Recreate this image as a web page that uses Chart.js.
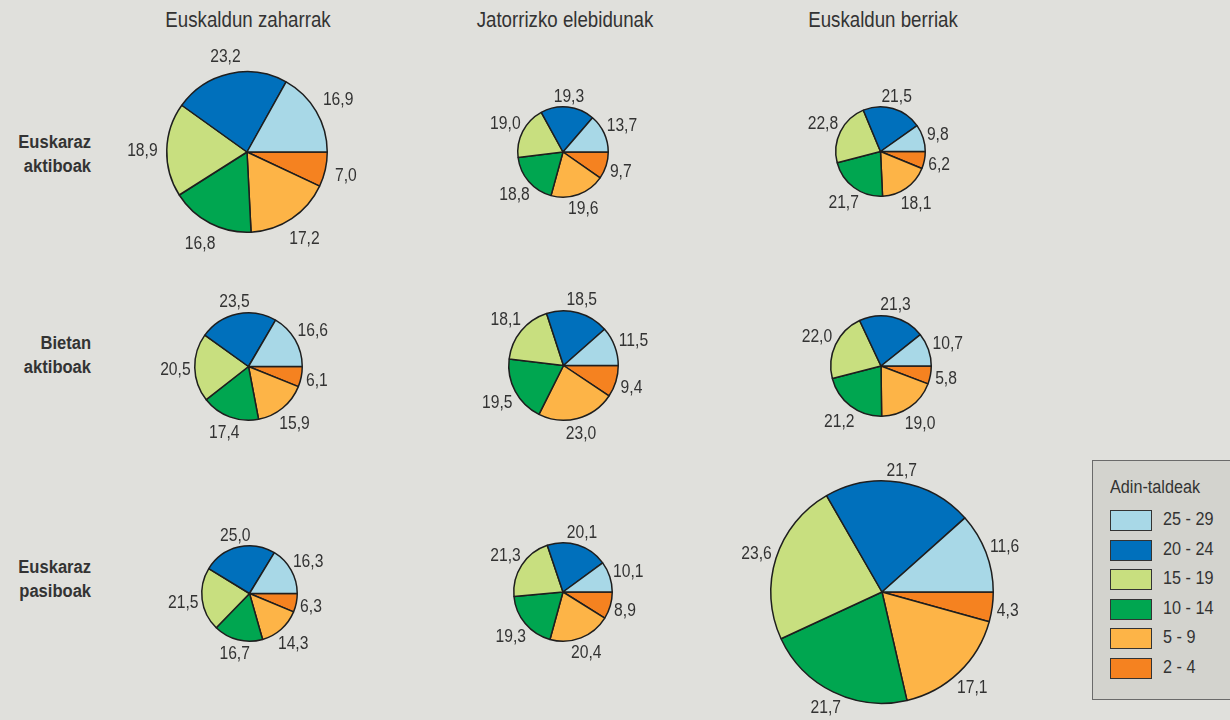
<!DOCTYPE html>
<html>
<head>
<meta charset="utf-8">
<script src="https://cdn.jsdelivr.net/npm/chart.js@4.4.1/dist/chart.umd.min.js"></script>
<style>
  html, body { margin:0; padding:0; background:#e0e0dc; }
  body { width:1230px; height:720px; position:relative; overflow:hidden;
         font-family:"Liberation Sans Narrow","Arial Narrow","Liberation Sans",sans-serif; color:#333; }
  canvas { position:absolute; }
  .coltitle { position:absolute; font-size:22px; line-height:26px; white-space:nowrap;
              transform:translateX(-50%) scaleX(0.85); transform-origin:50% 50%; }
  .rowtitle { position:absolute; font-weight:bold; font-size:18px; line-height:24px; text-align:right; right:1139px;
              white-space:nowrap; transform:scaleX(0.92); transform-origin:100% 50%; }
  #legend { position:absolute; left:1092px; top:460px; width:150px; height:240px; background:#d3d3ce;
            border:1.5px solid #6a6a6a; box-sizing:border-box; }
  #legend .lt { position:absolute; left:17px; top:16px; font-size:18px; transform:scaleX(0.9); transform-origin:0 50%; }
  #legend .item { position:absolute; left:17px; height:22px; }
  #legend .sw { position:absolute; left:0; top:0; width:42px; height:21px; border:1.5px solid #333; box-sizing:border-box; }
  #legend .lab { position:absolute; left:53px; top:-1px; font-size:18px; white-space:nowrap; transform:scaleX(0.9); transform-origin:0 50%; }
</style>
</head>
<body>
<script>
// ---- data ----
const ageGroups = ['25 - 29', '20 - 24', '15 - 19', '10 - 14', '5 - 9', '2 - 4'];
const groupColors = ['#a8d8e7', '#0070bc', '#c8df7f', '#00a650', '#fdb447', '#f58220'];
const columnTitles = ['Euskaldun zaharrak', 'Jatorrizko elebidunak', 'Euskaldun berriak'];
const rowTitles = [['Euskaraz', 'aktiboak'], ['Bietan', 'aktiboak'], ['Euskaraz', 'pasiboak']];

// values per age group, order as ageGroups (25-29 ... 2-4)
const aktiboakZaharrak   = [16.9, 23.2, 18.9, 16.8, 17.2, 7.0];
const aktiboakJatorrizko = [13.7, 19.3, 19.0, 18.8, 19.6, 9.7];
const aktiboakBerriak    = [9.8, 21.5, 22.8, 21.7, 18.1, 6.2];
const bietanZaharrak     = [16.6, 23.5, 20.5, 17.4, 15.9, 6.1];
const bietanJatorrizko   = [11.5, 18.5, 18.1, 19.5, 23.0, 9.4];
const bietanBerriak      = [10.7, 21.3, 22.0, 21.2, 19.0, 5.8];
const pasiboakZaharrak   = [16.3, 25.0, 21.5, 16.7, 14.3, 6.3];
const pasiboakJatorrizko = [10.1, 20.1, 21.3, 19.3, 20.4, 8.9];
const pasiboakBerriak    = [11.6, 21.7, 23.6, 21.7, 17.1, 4.3];

const grid = [
  [aktiboakZaharrak, aktiboakJatorrizko, aktiboakBerriak],
  [bietanZaharrak, bietanJatorrizko, bietanBerriak],
  [pasiboakZaharrak, pasiboakJatorrizko, pasiboakBerriak]
];

// ---- layout (positions / sizes) ----
const colX = [[247, 563, 880.5], [248.5, 563.5, 881], [249, 563, 882]];
const rowY = [[152, 151.5, 151.5], [366, 365.5, 365.5], [593, 592, 592]];
const radii = [[80, 45, 44.5], [53.5, 54.5, 50], [47.5, 49, 111]];
const labelGap = [[9, 3, 3], [4, 4, 4], [3, 3, 4]];
const colTitleX = [248, 565, 883];
const rowTitleTop = [130, 331, 555];
const PAD = 62;
const FONT = '"Liberation Sans Narrow","Arial Narrow","Liberation Sans",sans-serif';
const NARROW = 0.87;

// titles
columnTitles.forEach((t, i) => {
  const d = document.createElement('div');
  d.className = 'coltitle'; d.textContent = t;
  d.style.left = colTitleX[i] + 'px'; d.style.top = '7px';
  document.body.appendChild(d);
});
rowTitles.forEach((lines, i) => {
  const d = document.createElement('div');
  d.className = 'rowtitle'; d.innerHTML = lines.join('<br>');
  d.style.top = rowTitleTop[i] + 'px';
  document.body.appendChild(d);
});

// legend
const lg = document.createElement('div'); lg.id = 'legend';
lg.innerHTML = '<div class="lt">Adin-taldeak</div>';
ageGroups.forEach((g, i) => {
  const it = document.createElement('div'); it.className = 'item';
  it.style.top = (49 + i * 29.6) + 'px';
  it.innerHTML = '<div class="sw" style="background:' + groupColors[i] + '"></div><div class="lab">' + g + '</div>';
  lg.appendChild(it);
});
document.body.appendChild(lg);

// outside value labels
const outsideLabels = {
  id: 'outsideLabels',
  afterDatasetsDraw(chart, args, opts) {
    const ctx = chart.ctx;
    const meta = chart.getDatasetMeta(0);
    const vals = chart.data.datasets[0].data;
    ctx.save();
    ctx.font = '18px ' + FONT;
    ctx.fillStyle = '#333';
    ctx.textAlign = 'center';
    ctx.textBaseline = 'alphabetic';
    const capH = 13, gap = opts.gap;
    meta.data.forEach((arc, i) => {
      const p = arc.getProps(['x', 'y', 'startAngle', 'endAngle', 'outerRadius'], true);
      const mid = (p.startAngle + p.endAngle) / 2;
      const txt = vals[i].toFixed(1).replace('.', ',');
      const w = ctx.measureText(txt).width * NARROW;
      const c = Math.cos(mid), s = Math.sin(mid);
      const ext = Math.abs(c) * w / 2 + Math.abs(s) * capH / 2;
      const d = p.outerRadius + gap + ext;
      ctx.save();
      ctx.translate(p.x + c * d, p.y + s * d + capH / 2);
      ctx.scale(NARROW, 1);
      ctx.fillText(txt, 0, 0);
      ctx.restore();
    });
    ctx.restore();
  }
};

const bw = 1.5;
grid.forEach((row, r) => {
  row.forEach((vals, c) => {
    const rad = radii[r][c];
    const size = Math.round(2 * (rad + bw / 2) + 2 * PAD);
    const cv = document.createElement('canvas');
    cv.width = size; cv.height = size;
    cv.style.width = size + 'px'; cv.style.height = size + 'px';
    cv.style.left = (colX[r][c] - size / 2) + 'px';
    cv.style.top = (rowY[r][c] - size / 2) + 'px';
    document.body.appendChild(cv);
    new Chart(cv, {
      type: 'pie',
      data: {
        labels: ageGroups.slice().reverse(),
        datasets: [{
          data: vals.slice().reverse(),
          backgroundColor: groupColors.slice().reverse(),
          borderColor: '#1e1e1e',
          borderWidth: bw
        }]
      },
      options: {
        responsive: false,
        animation: false,
        devicePixelRatio: 1,
        rotation: 90,
        layout: { padding: PAD },
        plugins: { legend: { display: false }, tooltip: { enabled: false }, outsideLabels: { gap: labelGap[r][c] } }
      },
      plugins: [outsideLabels]
    });
  });
});
</script>
</body>
</html>
